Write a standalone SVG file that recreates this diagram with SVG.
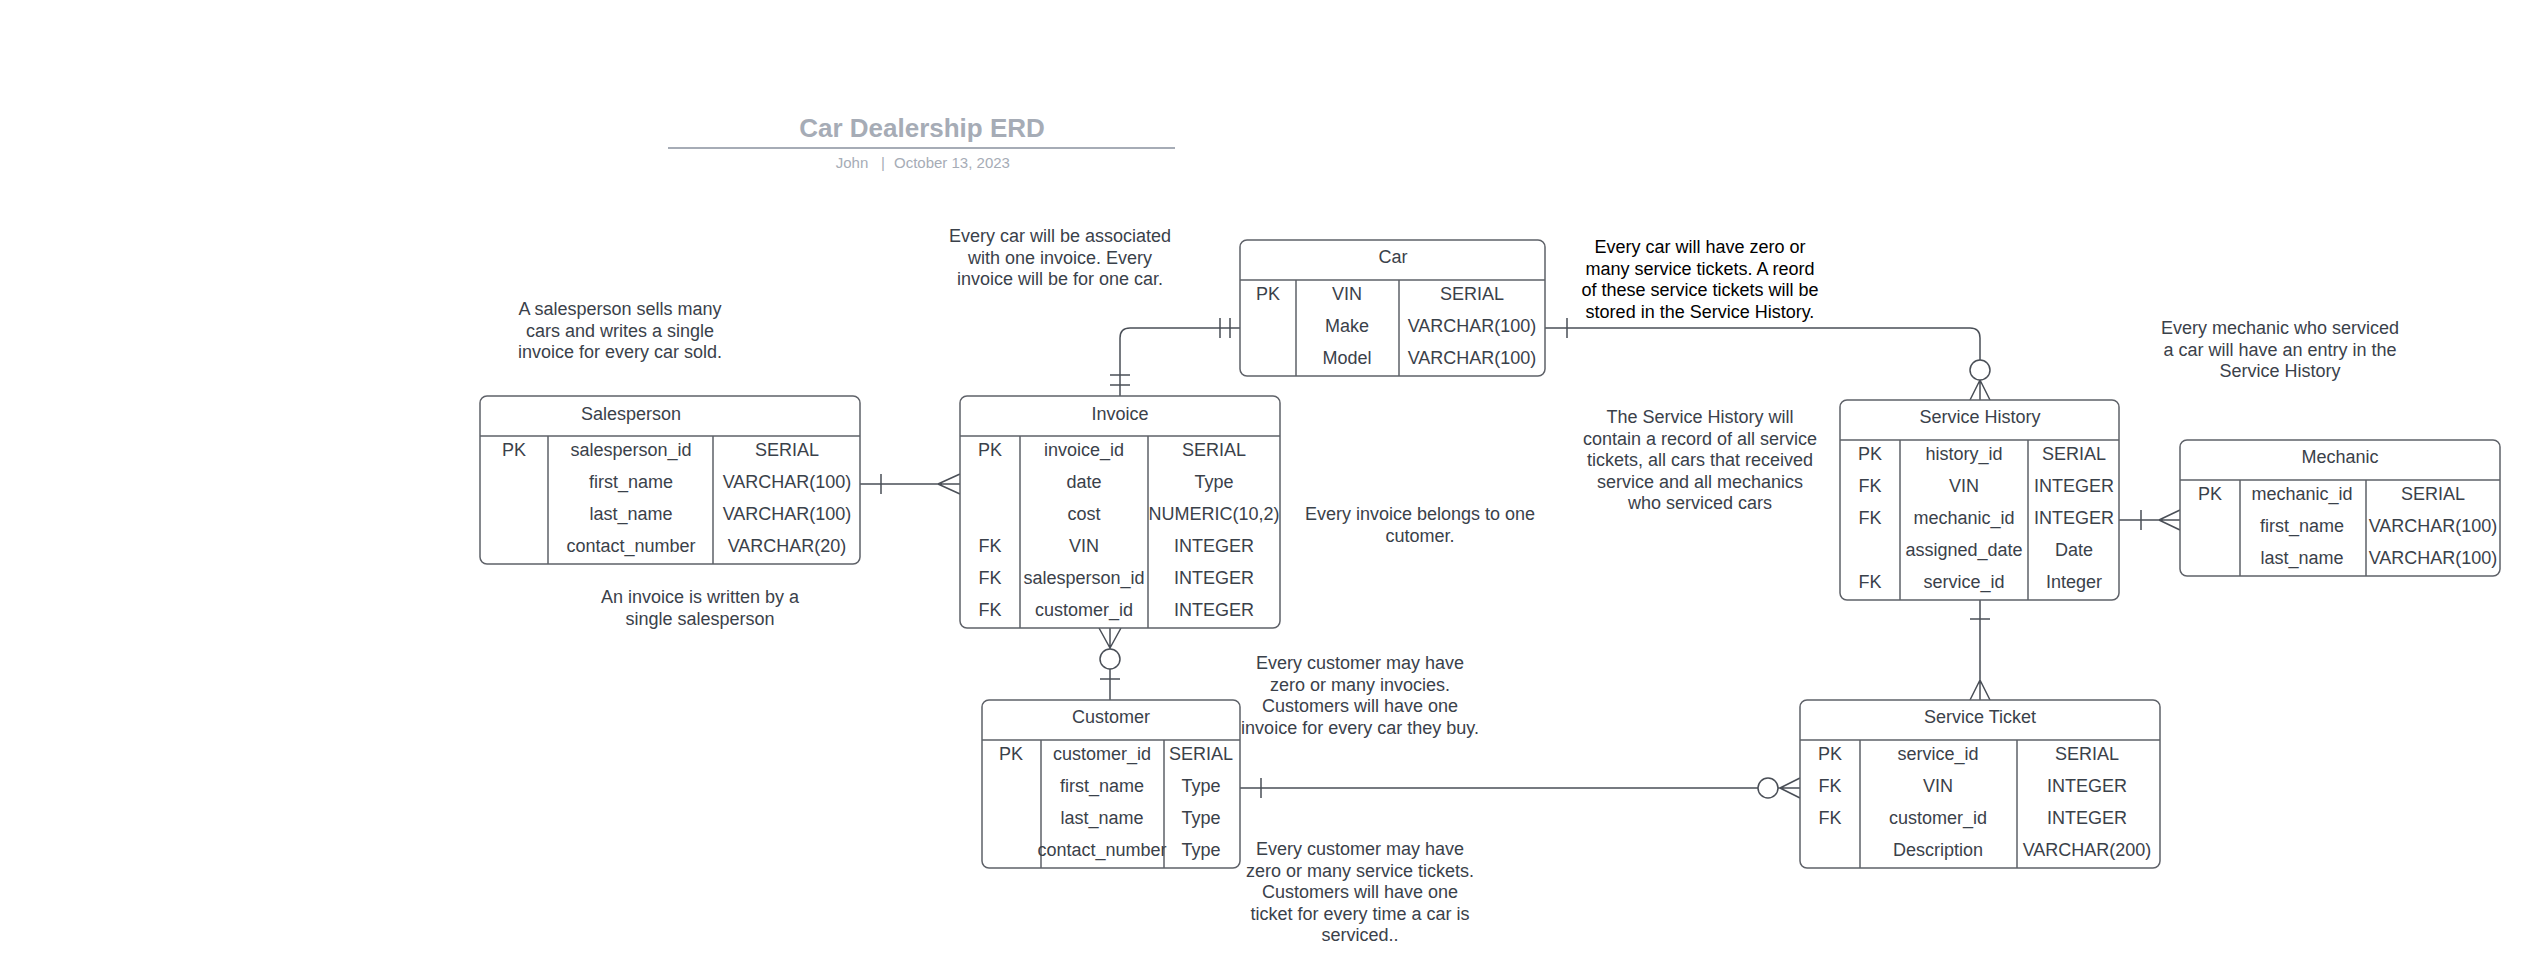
<svg xmlns="http://www.w3.org/2000/svg" width="2540" height="980" viewBox="0 0 2540 980">
<style>
.bx{fill:#fff;stroke:#5e6168;stroke-width:1.5}
.ln{stroke:#5e6168;stroke-width:1.5;fill:none}
.t{font-family:"Liberation Sans",Arial,sans-serif;font-size:18px;fill:#3a414a;text-anchor:middle}
.note{font-family:"Liberation Sans",Arial,sans-serif;font-size:18px;fill:#3a414a;text-anchor:middle}
.cn{stroke:#4a4f57;stroke-width:1.5;fill:none}
.cc{stroke:#4a4f57;stroke-width:1.5;fill:#fff}
.sub{font-family:"Liberation Sans",Arial,sans-serif;font-size:15px;fill:#a6acb6}
</style>
<rect width="2540" height="980" fill="#fff"/>
<g id="title">
<text x="922" y="137" style="font-family:'Liberation Sans',Arial,sans-serif;font-size:26px;font-weight:bold;fill:#a6acb6;text-anchor:middle">Car Dealership ERD</text>
<line x1="668" y1="148" x2="1175" y2="148" stroke="#a6acb6" stroke-width="2"/>
<text class="sub" x="852" y="168" text-anchor="middle">John</text>
<text class="sub" x="883" y="168" text-anchor="middle">|</text>
<text class="sub" x="894" y="168">October 13, 2023</text>
</g>
<g id="connectors">
<path class="cn" d="M860,484 H960 M881,474 V494 M938,484 L960,474 M938,484 L960,494"/>
<path class="cn" d="M1240,328 H1130 Q1120,328 1120,338 V396 M1220,318 V338 M1230,318 V338 M1110,375 H1130 M1110,385 H1130"/>
<path class="cn" d="M1545,328 H1970 Q1980,328 1980,338 V360 M1567,318 V338 M1980,380 V400 M1980,380 L1970,400 M1980,380 L1990,400"/>
<circle class="cc" cx="1980" cy="370" r="10"/>
<path class="cn" d="M2119,520 H2180 M2141,510 V530 M2159,520 L2180,510 M2159,520 L2180,530"/>
<path class="cn" d="M1980,600 V700 M1970,619 H1990 M1980,680 L1970,700 M1980,680 L1990,700"/>
<path class="cn" d="M1110,628 V649 M1110,648 L1099,628 M1110,648 L1121,628 M1110,669 V700 M1100,679 H1120"/>
<circle class="cc" cx="1110" cy="659" r="10"/>
<path class="cn" d="M1240,788 H1758 M1261,778 V798 M1778,788 H1800 M1780,788 L1800,778 M1780,788 L1800,798"/>
<circle class="cc" cx="1768" cy="788" r="10"/>
</g>
<g id="salesperson">
<rect class="bx" x="480" y="396" width="380" height="168" rx="7"/>
<path class="ln" d="M480,436 H860 M548,436 V564 M713,436 V564"/>
<text class="t" x="631" y="420">Salesperson</text>
<text class="t" x="514" y="456">PK</text>
<text class="t" x="631" y="456">salesperson_id</text><text class="t" x="787" y="456">SERIAL</text>
<text class="t" x="631" y="488">first_name</text><text class="t" x="787" y="488">VARCHAR(100)</text>
<text class="t" x="631" y="520">last_name</text><text class="t" x="787" y="520">VARCHAR(100)</text>
<text class="t" x="631" y="552">contact_number</text><text class="t" x="787" y="552">VARCHAR(20)</text>
</g>
<g id="invoice">
<rect class="bx" x="960" y="396" width="320" height="232" rx="7"/>
<path class="ln" d="M960,436 H1280 M1020,436 V628 M1148,436 V628"/>
<text class="t" x="1120" y="420">Invoice</text>
<text class="t" x="990" y="456">PK</text><text class="t" x="1084" y="456">invoice_id</text><text class="t" x="1214" y="456">SERIAL</text>
<text class="t" x="1084" y="488">date</text><text class="t" x="1214" y="488">Type</text>
<text class="t" x="1084" y="520">cost</text><text class="t" x="1214" y="520">NUMERIC(10,2)</text>
<text class="t" x="990" y="552">FK</text><text class="t" x="1084" y="552">VIN</text><text class="t" x="1214" y="552">INTEGER</text>
<text class="t" x="990" y="584">FK</text><text class="t" x="1084" y="584">salesperson_id</text><text class="t" x="1214" y="584">INTEGER</text>
<text class="t" x="990" y="616">FK</text><text class="t" x="1084" y="616">customer_id</text><text class="t" x="1214" y="616">INTEGER</text>
</g>
<g id="car">
<rect class="bx" x="1240" y="240" width="305" height="136" rx="7"/>
<path class="ln" d="M1240,280 H1545 M1296,280 V376 M1399,280 V376"/>
<text class="t" x="1393" y="263">Car</text>
<text class="t" x="1268" y="300">PK</text><text class="t" x="1347" y="300">VIN</text><text class="t" x="1472" y="300">SERIAL</text>
<text class="t" x="1347" y="332">Make</text><text class="t" x="1472" y="332">VARCHAR(100)</text>
<text class="t" x="1347" y="364">Model</text><text class="t" x="1472" y="364">VARCHAR(100)</text>
</g>
<g id="service-history">
<rect class="bx" x="1840" y="400" width="279" height="200" rx="7"/>
<path class="ln" d="M1840,440 H2119 M1900,440 V600 M2028,440 V600"/>
<text class="t" x="1980" y="423">Service History</text>
<text class="t" x="1870" y="460">PK</text><text class="t" x="1964" y="460">history_id</text><text class="t" x="2074" y="460">SERIAL</text>
<text class="t" x="1870" y="492">FK</text><text class="t" x="1964" y="492">VIN</text><text class="t" x="2074" y="492">INTEGER</text>
<text class="t" x="1870" y="524">FK</text><text class="t" x="1964" y="524">mechanic_id</text><text class="t" x="2074" y="524">INTEGER</text>
<text class="t" x="1964" y="556">assigned_date</text><text class="t" x="2074" y="556">Date</text>
<text class="t" x="1870" y="588">FK</text><text class="t" x="1964" y="588">service_id</text><text class="t" x="2074" y="588">Integer</text>
</g>
<g id="mechanic">
<rect class="bx" x="2180" y="440" width="320" height="136" rx="7"/>
<path class="ln" d="M2180,480 H2500 M2240,480 V576 M2366,480 V576"/>
<text class="t" x="2340" y="463">Mechanic</text>
<text class="t" x="2210" y="500">PK</text><text class="t" x="2302" y="500">mechanic_id</text><text class="t" x="2433" y="500">SERIAL</text>
<text class="t" x="2302" y="532">first_name</text><text class="t" x="2433" y="532">VARCHAR(100)</text>
<text class="t" x="2302" y="564">last_name</text><text class="t" x="2433" y="564">VARCHAR(100)</text>
</g>
<g id="customer">
<rect class="bx" x="982" y="700" width="258" height="168" rx="7"/>
<path class="ln" d="M982,740 H1240 M1041,740 V868 M1164,740 V868"/>
<text class="t" x="1111" y="723">Customer</text>
<text class="t" x="1011" y="760">PK</text><text class="t" x="1102" y="760">customer_id</text><text class="t" x="1201" y="760">SERIAL</text>
<text class="t" x="1102" y="792">first_name</text><text class="t" x="1201" y="792">Type</text>
<text class="t" x="1102" y="824">last_name</text><text class="t" x="1201" y="824">Type</text>
<text class="t" x="1102" y="856">contact_number</text><text class="t" x="1201" y="856">Type</text>
</g>
<g id="service-ticket">
<rect class="bx" x="1800" y="700" width="360" height="168" rx="7"/>
<path class="ln" d="M1800,740 H2160 M1860,740 V868 M2017,740 V868"/>
<text class="t" x="1980" y="723">Service Ticket</text>
<text class="t" x="1830" y="760">PK</text><text class="t" x="1938" y="760">service_id</text><text class="t" x="2087" y="760">SERIAL</text>
<text class="t" x="1830" y="792">FK</text><text class="t" x="1938" y="792">VIN</text><text class="t" x="2087" y="792">INTEGER</text>
<text class="t" x="1830" y="824">FK</text><text class="t" x="1938" y="824">customer_id</text><text class="t" x="2087" y="824">INTEGER</text>
<text class="t" x="1938" y="856">Description</text><text class="t" x="2087" y="856">VARCHAR(200)</text>
</g>
<g id="notes">
<text class="note" x="620"><tspan x="620" y="315">A salesperson sells many</tspan><tspan x="620" y="336.5">cars and writes a single</tspan><tspan x="620" y="358">invoice for every car sold.</tspan></text>
<text class="note" x="700"><tspan x="700" y="603">An invoice is written by a</tspan><tspan x="700" y="624.5">single salesperson</tspan></text>
<text class="note" x="1060"><tspan x="1060" y="242">Every car will be associated</tspan><tspan x="1060" y="263.5">with one invoice. Every</tspan><tspan x="1060" y="285">invoice will be for one car.</tspan></text>
<text class="note" x="1420"><tspan x="1420" y="520">Every invoice belongs to one</tspan><tspan x="1420" y="541.5">cutomer.</tspan></text>
<text class="note" style="fill:#000" x="1700"><tspan x="1700" y="253">Every car will have zero or</tspan><tspan x="1700" y="274.5">many service tickets. A reord</tspan><tspan x="1700" y="296">of these service tickets will be</tspan><tspan x="1700" y="317.5">stored in the Service History.</tspan></text>
<text class="note" x="1700"><tspan x="1700" y="423">The Service History will</tspan><tspan x="1700" y="444.5">contain a record of all service</tspan><tspan x="1700" y="466">tickets, all cars that received</tspan><tspan x="1700" y="487.5">service and all mechanics</tspan><tspan x="1700" y="509">who serviced cars</tspan></text>
<text class="note" x="2280"><tspan x="2280" y="334">Every mechanic who serviced</tspan><tspan x="2280" y="355.5">a car will have an entry in the</tspan><tspan x="2280" y="377">Service History</tspan></text>
<text class="note" x="1360"><tspan x="1360" y="669">Every customer may have</tspan><tspan x="1360" y="690.5">zero or many invocies.</tspan><tspan x="1360" y="712">Customers will have one</tspan><tspan x="1360" y="733.5">invoice for every car they buy.</tspan></text>
<text class="note" x="1360"><tspan x="1360" y="855">Every customer may have</tspan><tspan x="1360" y="876.5">zero or many service tickets.</tspan><tspan x="1360" y="898">Customers will have one</tspan><tspan x="1360" y="919.5">ticket for every time a car is</tspan><tspan x="1360" y="941">serviced..</tspan></text>
</g>
</svg>
